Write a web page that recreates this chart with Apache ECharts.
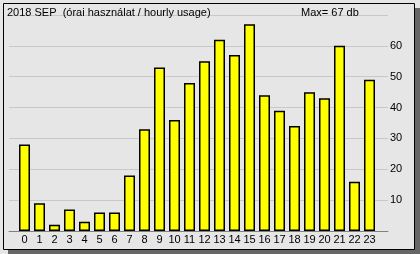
<!DOCTYPE html>
<html><head><meta charset="utf-8">
<script src="https://cdn.jsdelivr.net/npm/echarts@6/dist/echarts.min.js"></script>
<style>html,body{margin:0;padding:0;background:#e6e6e6}#c{width:420px;height:254px}</style>
</head><body><div id="c"></div>
<script>
const hours = ['0','1','2','3','4','5','6','7','8','9','10','11','12','13','14','15','16','17','18','19','20','21','22','23'];
const usage = [28,9,2,7,3,6,6,18,33,53,36,48,55,62,57,67,44,39,34,45,43,60,16,49];
const yTicks = [10,20,30,40,50,60];
const titleText = '2018 SEP  (órai használat / hourly usage)';
const maxText = 'Max= 67 db';

const FONT = '"Liberation Sans", Arial, sans-serif';
const chart = echarts.init(document.getElementById('c'), null, {renderer: 'canvas'});
chart.setOption({
  backgroundColor: '#e6e6e6',
  animation: false,
  textStyle: {fontFamily: FONT},
  graphic: [
    {type: 'rect', z: -100, shape: {x: 8, y: 8, width: 412, height: 246}, style: {fill: '#666666'}},
    {type: 'rect', z: -99, shape: {x: 3.5, y: 3.5, width: 411, height: 246}, style: {fill: '#e6e6e6', stroke: '#000', lineWidth: 1}},
    {type: 'text', z: 100, left: 7, top: 7, style: {text: titleText, fill: '#000', font: '11px ' + FONT}},
    {type: 'text', z: 100, left: 301, top: 7, style: {text: maxText, fill: '#000', font: '11px ' + FONT}}
  ],
  grid: [
    {left: 17, right: 43, top: 15, bottom: 23},
    {left: 9, right: 32, top: 15, bottom: 23}
  ],
  xAxis: [
    {type: 'category', gridIndex: 0, data: hours,
     axisLine: {show: false}, axisTick: {show: false},
     axisLabel: {interval: 0, fontSize: 11, color: '#000', margin: 3, fontFamily: FONT}},
    {type: 'value', gridIndex: 1, min: 0, max: 1,
     axisLine: {show: true, lineStyle: {color: '#808080', width: 1}},
     axisTick: {show: false}, axisLabel: {show: false}, splitLine: {show: false}}
  ],
  yAxis: [
    {type: 'value', gridIndex: 0, min: 0, max: 70, interval: 10, show: false},
    {type: 'value', gridIndex: 1, min: 0, max: 70, interval: 10, position: 'right',
     axisLine: {show: false}, axisTick: {show: false},
     splitLine: {show: true, lineStyle: {color: '#c8c8c8', width: 1}},
     axisLabel: {margin: 2, fontSize: 11, color: '#000', fontFamily: FONT,
       formatter: v => yTicks.includes(v) ? String(v) : ''}}
  ],
  series: [{
    type: 'bar', xAxisIndex: 0, yAxisIndex: 0, data: usage, barWidth: 11,
    itemStyle: {color: '#ffff00', borderColor: '#000', borderWidth: 1.5}
  }]
});
</script></body></html>
